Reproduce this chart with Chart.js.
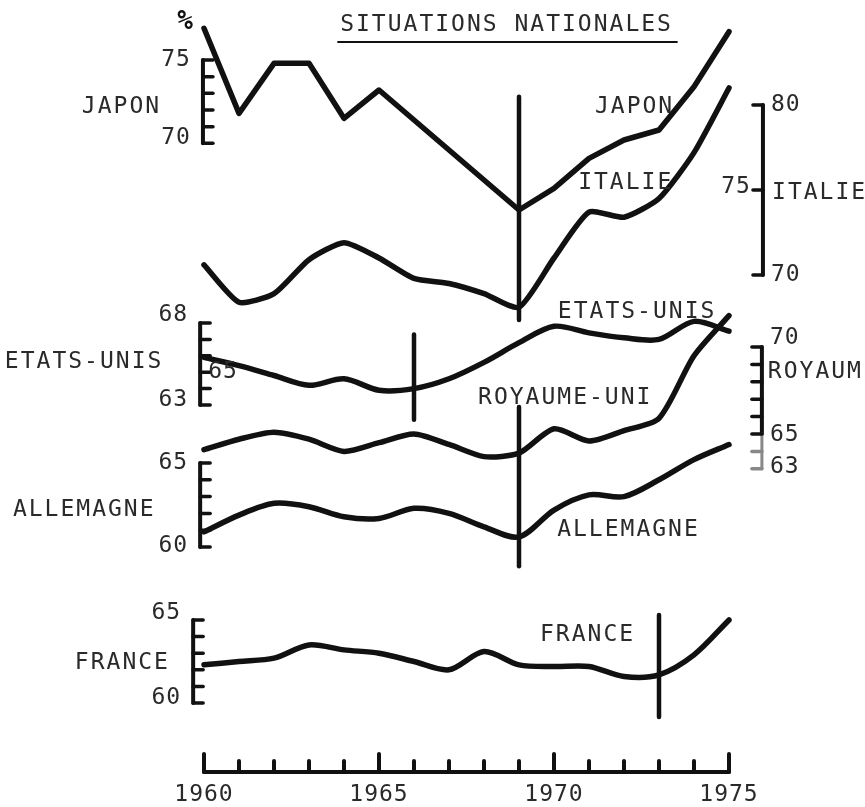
<!DOCTYPE html>
<html>
<head>
<meta charset="utf-8">
<script src="https://cdn.jsdelivr.net/npm/chart.js@4.4.1/dist/chart.umd.min.js"></script>
<style>
  html, body { margin: 0; padding: 0; background: #fff; }
  #wrap { width: 865px; height: 807px; }
</style>
</head>
<body>
<div id="wrap"><canvas id="situations" width="865" height="807"></canvas></div>
<script>
const years = [1960, 1961, 1962, 1963, 1964, 1965, 1966, 1967, 1968, 1969, 1970, 1971, 1972, 1973, 1974, 1975];

// taux en %
const japon      = [76.9, 71.8, 74.8, 74.8, 71.5, 73.2, 71.4, 69.6, 67.8, 66.0, 67.3, 69.1, 70.2, 70.8, 73.4, 76.7];
const italie     = [70.6, 68.4, 68.9, 70.9, 71.9, 71.0, 69.8, 69.5, 68.9, 68.1, 71.0, 73.7, 73.4, 74.5, 77.2, 81.0];
const etatsUnis  = [65.9, 65.4, 64.8, 64.2, 64.6, 63.9, 64.0, 64.6, 65.6, 66.8, 67.8, 67.4, 67.1, 67.0, 68.1, 67.5];
const royaumeUni = [64.1, 64.7, 65.1, 64.7, 64.0, 64.5, 65.0, 64.4, 63.7, 63.9, 65.3, 64.6, 65.2, 65.9, 69.5, 71.8];
const allemagne  = [60.9, 61.9, 62.6, 62.4, 61.8, 61.7, 62.3, 62.0, 61.2, 60.6, 62.2, 63.1, 63.0, 64.0, 65.2, 66.1];
const france     = [62.3, 62.5, 62.7, 63.5, 63.2, 63.0, 62.5, 62.0, 63.1, 62.3, 62.2, 62.2, 61.6, 61.7, 62.9, 65.0];

const yearTicks = [1960, 1965, 1970, 1975];

const H = 807;
const INK = '#111';
const FONT = '23px "DejaVu Sans Mono"';

// each country gets its own vertical scale: value at a pixel, pixels per point
const yScale = (value, pixel, ppu) => {
    const max = value + pixel / ppu;
    return { display: false, min: max - H / ppu, max: max };
};

const pts = (arr) => years.map((y, i) => ({ x: y, y: arr[i] }));

const line = (ctx, x1, y1, x2, y2) => {
    ctx.beginPath();
    ctx.moveTo(x1, y1);
    ctx.lineTo(x2, y2);
    ctx.stroke();
};

// little "E" shaped axes
const axesDef = [
    { scale: 'yJ', at: 1959.97, from: 70, to: 75, step: 1, dir: 1,
      labels: [[75, 'l', 0], [70, 'l', -5]] },
    { scale: 'yI', at: 1975.97, from: 70, to: 80, step: 5, dir: -1,
      labels: [[80, 'r', 0], [75, 'l', -3], [70, 'r', 0]] },
    { scale: 'yEU', at: 1959.89, from: 63, to: 68, step: 1, dir: 1,
      labels: [[68, 'l', -8], [63, 'l', -5], [65, 'r', 0]] },
    { scale: 'yRU', at: 1975.94, from: 63, to: 70, step: 1, dir: -1, faintBelow: 65,
      labels: [[70, 'r', -9], [65, 'r', 1], [63, 'r', -2]] },
    { scale: 'yA', at: 1959.89, from: 60, to: 65, step: 1, dir: 1,
      labels: [[65, 'l', 0], [60, 'l', -1]] },
    { scale: 'yF', at: 1959.69, from: 60, to: 65, step: 1, dir: 1,
      labels: [[65, 'l', -7], [60, 'l', -5]] }
];

// vertical marker bars: year, scale, top value, bottom value
const markers = [
    [1969, 'yJ', 72.8, 59.4],
    [1966, 'yEU', 67.3, 62.1],
    [1969, 'yRU', 66.55, 57.4],
    [1973, 'yF', 65.3, 59.15]
];

// names: text, year, scale, value
const names = [
    ['JAPON', 1971.17, 'yJ', 72.18],
    ['ITALIE', 1970.69, 'yI', 75.41],
    ['ETATS-UNIS', 1970.11, 'yEU', 68.67],
    ['ROYAUME-UNI', 1967.83, 'yRU', 67.07],
    ['ALLEMAGNE', 1970.09, 'yA', 61.01],
    ['FRANCE', 1969.6, 'yF', 64.1],
    ['JAPON', 1956.51, 'yJ', 72.18],
    ['ETATS-UNIS', 1954.31, 'yEU', 65.62],
    ['ALLEMAGNE', 1954.54, 'yA', 62.2],
    ['FRANCE', 1956.31, 'yF', 62.41],
    ['ITALIE', 1976.23, 'yI', 74.82],
    ['ROYAUME-UNI', 1976.11, 'yRU', 68.56]
];

const decor = {
    id: 'decor',
    afterDatasetsDraw(chart) {
        const ctx = chart.ctx;
        const x = chart.scales.x;
        const sc = chart.scales;
        ctx.save();
        ctx.lineCap = 'round';
        ctx.fillStyle = '#2a2a2a';
        ctx.textBaseline = 'middle';
        ctx.font = FONT;
        ctx.letterSpacing = '1px';

        for (const a of axesDef) {
            const s = sc[a.scale];
            const px = x.getPixelForValue(a.at);
            ctx.strokeStyle = INK;
            ctx.lineWidth = 4;
            const split = a.faintBelow !== undefined ? a.faintBelow : a.from;
            line(ctx, px, s.getPixelForValue(a.to), px, s.getPixelForValue(split));
            if (split !== a.from) {
                ctx.strokeStyle = '#888';
                ctx.lineWidth = 3;
                line(ctx, px, s.getPixelForValue(split), px, s.getPixelForValue(a.from));
            }
            for (let v = a.from; v <= a.to + 1e-6; v += a.step) {
                const py = s.getPixelForValue(v);
                ctx.strokeStyle = v < split ? '#888' : INK;
                ctx.lineWidth = 3.5;
                line(ctx, px, py, px + a.dir * 10, py);
            }
            for (const [v, side, dy] of a.labels) {
                const py = s.getPixelForValue(v) + dy;
                if (side === 'l') {
                    ctx.textAlign = 'right';
                    ctx.fillText(String(v), px - 12, py);
                } else {
                    ctx.textAlign = 'left';
                    ctx.fillText(String(v), px + 8, py);
                }
            }
        }

        ctx.strokeStyle = INK;
        ctx.lineWidth = 4.5;
        for (const [yr, key, top, bottom] of markers) {
            const px = x.getPixelForValue(yr);
            line(ctx, px, sc[key].getPixelForValue(top), px, sc[key].getPixelForValue(bottom));
        }

        // country names
        ctx.letterSpacing = '2px';
        ctx.textAlign = 'left';
        for (const [txt, yr, key, v] of names) {
            ctx.fillText(txt, x.getPixelForValue(yr), sc[key].getPixelForValue(v));
        }

        // title
        const tx = x.getPixelForValue(1963.89);
        ctx.fillText('SITUATIONS NATIONALES', tx, sc.yJ.getPixelForValue(77.1));
        ctx.lineWidth = 2;
        line(ctx, x.getPixelForValue(1963.83), sc.yJ.getPixelForValue(76.08),
             x.getPixelForValue(1973.51), sc.yJ.getPixelForValue(76.08));

        // % sign
        ctx.letterSpacing = '0px';
        ctx.fillStyle = INK;
        ctx.font = 'bold 26px "DejaVu Sans Mono"';
        ctx.textAlign = 'center';
        ctx.fillText('%', x.getPixelForValue(1959.46), sc.yJ.getPixelForValue(77.25));
        ctx.fillStyle = '#2a2a2a';

        // bottom time axis, ticks pointing up
        const base = sc.yF.getPixelForValue(55.85);
        ctx.strokeStyle = INK;
        ctx.lineWidth = 4;
        line(ctx, x.getPixelForValue(1960), base, x.getPixelForValue(1975), base);
        for (const yr of years) {
            const px = x.getPixelForValue(yr);
            const len = yearTicks.includes(yr) ? 18 : 11;
            line(ctx, px, base, px, base - len);
        }
        ctx.font = FONT;
        ctx.letterSpacing = '1px';
        const lab = sc.yF.getPixelForValue(54.46);
        for (const yr of yearTicks) {
            ctx.fillText(String(yr), x.getPixelForValue(yr), lab);
        }
        ctx.restore();
    }
};

const series = [
    [japon, 'yJ', 0],
    [italie, 'yI', 0.2],
    [etatsUnis, 'yEU', 0.3],
    [royaumeUni, 'yRU', 0.25],
    [allemagne, 'yA', 0.3],
    [france, 'yF', 0.3]
];

new Chart(document.getElementById('situations'), {
    type: 'line',
    data: {
        datasets: series.map(([arr, key, t]) => ({
            data: pts(arr),
            yAxisID: key,
            borderColor: INK,
            borderWidth: 5.5,
            borderCapStyle: 'round',
            borderJoinStyle: 'round',
            tension: t,
            pointRadius: 0,
            fill: false,
            clip: false
        }))
    },
    options: {
        responsive: false,
        animation: false,
        devicePixelRatio: 1,
        layout: { padding: { left: 204, right: 136, top: 0, bottom: 0 } },
        plugins: { legend: { display: false }, tooltip: { enabled: false }, title: { display: false } },
        scales: {
            x: { type: 'linear', display: false, min: 1960, max: 1975 },
            yJ: yScale(75, 60, 16.67),
            yI: yScale(80, 105, 17),
            yEU: yScale(68, 323, 16.4),
            yRU: yScale(70, 347, 17.4),
            yA: yScale(65, 463, 16.8),
            yF: yScale(65, 620, 16.6)
        }
    },
    plugins: [decor]
});
</script>
</body>
</html>
